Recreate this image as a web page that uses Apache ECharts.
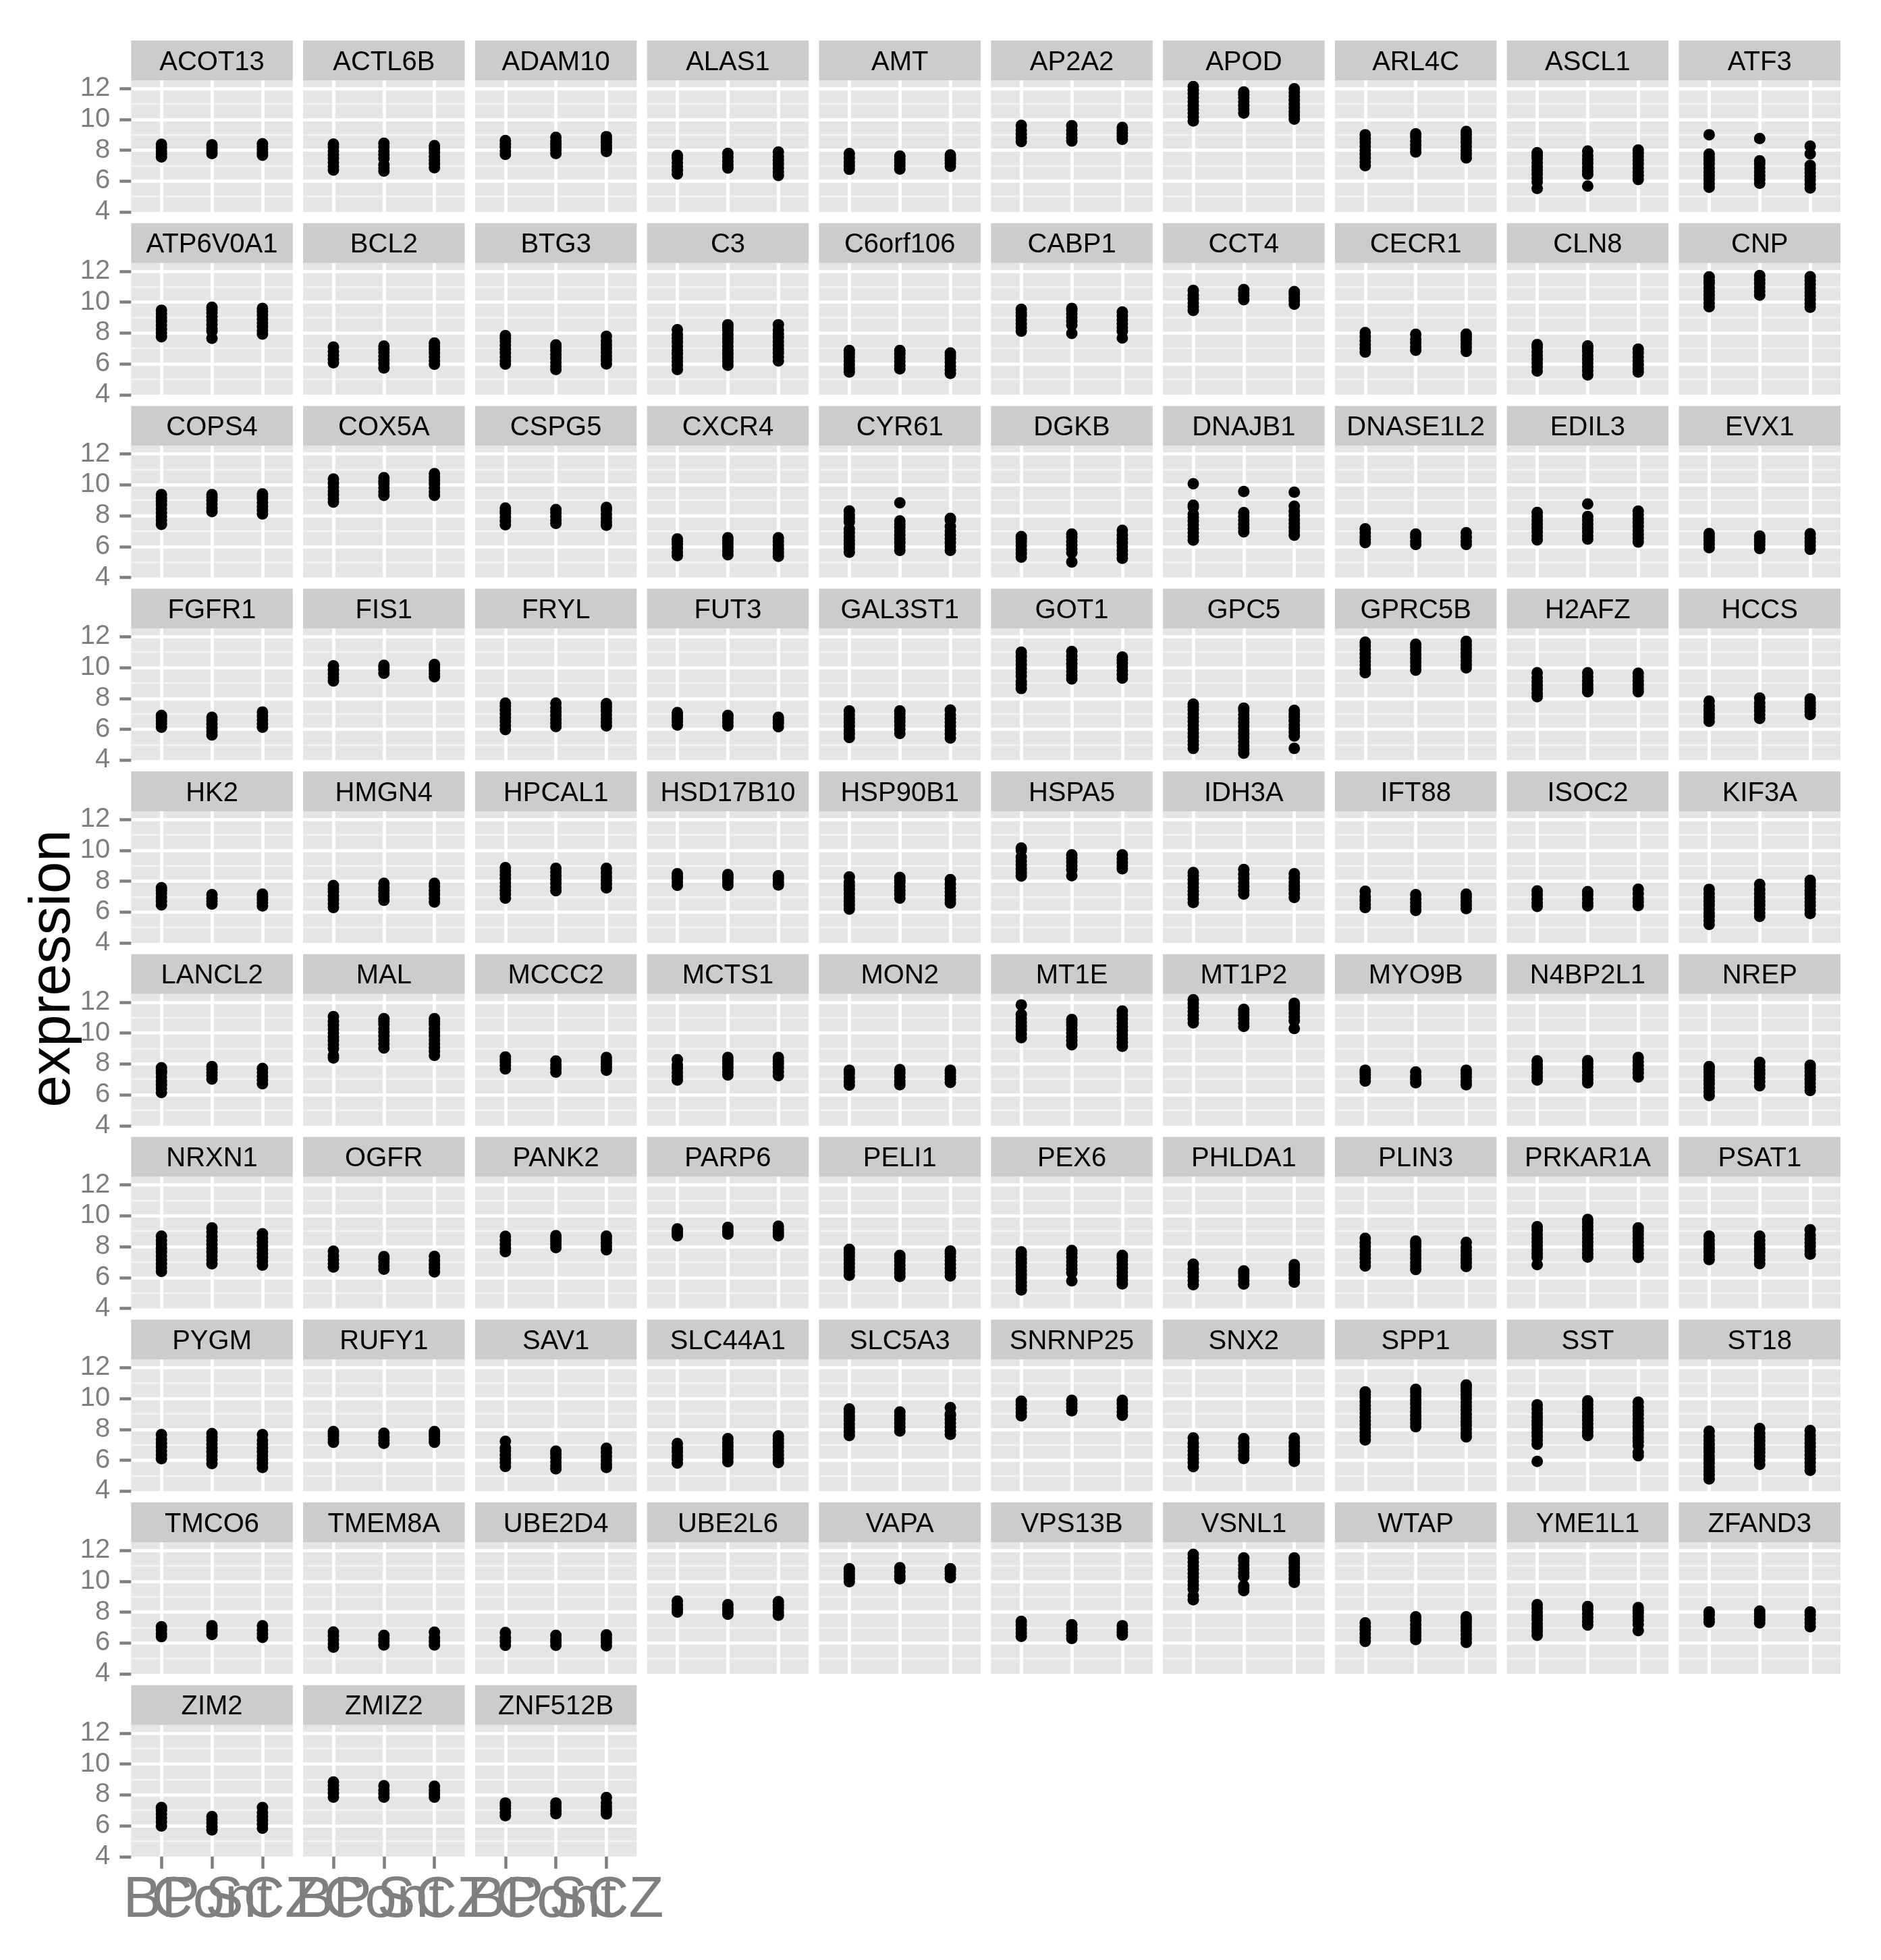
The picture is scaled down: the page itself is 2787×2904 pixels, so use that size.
<!DOCTYPE html>
<html><head><meta charset="utf-8">
<script src="https://cdn.jsdelivr.net/npm/echarts@6/dist/echarts.min.js"></script>
<style>html,body{margin:0;padding:0;background:#fff}#c{width:2787px;height:2904px}</style>
</head><body><div id="c"></div>
<script>
const genes = ['ACOT13','ACTL6B','ADAM10','ALAS1','AMT','AP2A2','APOD','ARL4C','ASCL1','ATF3',
'ATP6V0A1','BCL2','BTG3','C3','C6orf106','CABP1','CCT4','CECR1','CLN8','CNP',
'COPS4','COX5A','CSPG5','CXCR4','CYR61','DGKB','DNAJB1','DNASE1L2','EDIL3','EVX1',
'FGFR1','FIS1','FRYL','FUT3','GAL3ST1','GOT1','GPC5','GPRC5B','H2AFZ','HCCS',
'HK2','HMGN4','HPCAL1','HSD17B10','HSP90B1','HSPA5','IDH3A','IFT88','ISOC2','KIF3A',
'LANCL2','MAL','MCCC2','MCTS1','MON2','MT1E','MT1P2','MYO9B','N4BP2L1','NREP',
'NRXN1','OGFR','PANK2','PARP6','PELI1','PEX6','PHLDA1','PLIN3','PRKAR1A','PSAT1',
'PYGM','RUFY1','SAV1','SLC44A1','SLC5A3','SNRNP25','SNX2','SPP1','SST','ST18',
'TMCO6','TMEM8A','UBE2D4','UBE2L6','VAPA','VPS13B','VSNL1','WTAP','YME1L1','ZFAND3',
'ZIM2','ZMIZ2','ZNF512B'];
const groups = ['BP','Cont','SCZ'];
const yTicks = [4,6,8,10,12];
const yTitle = 'expression';

const bp = [
[7.56,7.75,7.95,8.15,8.38],
[6.71,6.95,7.2,7.45,7.7,7.95,8.2,8.39],
[7.73,7.95,8.2,8.4,8.62],
[6.46,6.7,6.95,7.2,7.45,7.66],
[6.76,7.0,7.25,7.5,7.78],
[8.56,8.8,9.05,9.3,9.61],
[9.89,10.15,10.4,10.65,10.9,11.15,11.4,11.65,11.9,12.12],
[6.99,7.25,7.5,7.75,8.0,8.25,8.5,8.75,9.0],
[5.52,5.95,6.2,6.45,6.7,6.95,7.2,7.45,7.65,7.84],
[5.6,5.85,6.1,6.35,6.6,6.85,7.1,7.35,7.55,7.75,9.0],
[7.75,8.0,8.25,8.5,8.75,9.0,9.25,9.47],
[6.07,6.3,6.55,6.8,7.08],
[5.98,6.2,6.45,6.7,6.95,7.2,7.45,7.65,7.82],
[5.63,5.9,6.15,6.4,6.65,6.9,7.15,7.4,7.65,7.9,8.21],
[5.46,5.7,5.95,6.2,6.45,6.66,6.86],
[8.11,8.35,8.6,8.85,9.1,9.3,9.53],
[9.45,9.7,9.95,10.2,10.45,10.75],
[6.76,7.0,7.25,7.5,7.75,8.02],
[5.53,5.8,6.05,6.3,6.55,6.8,7.05,7.25],
[9.69,9.95,10.2,10.45,10.7,10.95,11.2,11.4,11.63],
[7.43,7.7,7.95,8.2,8.45,8.7,8.95,9.15,9.37],
[8.87,9.1,9.35,9.6,9.85,10.1,10.37],
[7.41,7.65,7.9,8.15,8.3,8.49],
[5.41,5.65,5.9,6.15,6.35,6.49],
[5.63,5.9,6.15,6.4,6.65,6.9,7.15,7.6,7.85,8.05,8.31],
[5.31,5.55,5.8,6.05,6.3,6.5,6.64],
[6.42,6.65,6.9,7.15,7.4,7.65,7.9,8.1,8.55,8.68,10.07],
[6.25,6.45,6.65,6.9,7.15],
[6.43,6.7,6.95,7.2,7.45,7.7,7.95,8.21],
[5.92,6.15,6.4,6.6,6.84],
[6.13,6.35,6.55,6.75,6.9],
[9.13,9.35,9.6,9.85,10.11],
[5.98,6.25,6.5,6.75,7.0,7.25,7.5,7.69],
[6.27,6.5,6.7,6.9,7.08],
[5.46,5.7,5.95,6.2,6.45,6.7,6.95,7.19],
[8.64,8.9,9.1,9.45,9.7,9.95,10.2,10.45,10.7,10.99],
[4.76,5.0,5.25,5.5,5.75,6.0,6.25,6.5,6.75,7.0,7.25,7.45,7.63],
[9.66,9.9,10.15,10.4,10.65,10.9,11.15,11.4,11.64],
[8.11,8.35,8.6,8.85,9.1,9.35,9.66],
[6.51,6.75,7.0,7.25,7.5,7.83],
[6.46,6.7,6.95,7.2,7.4,7.57],
[6.29,6.55,6.8,7.05,7.3,7.5,7.72],
[6.9,7.15,7.4,7.65,7.9,8.15,8.4,8.65,8.87],
[7.73,7.95,8.15,8.3,8.48],
[6.19,6.45,6.7,6.95,7.2,7.45,7.7,7.95,8.27],
[8.33,8.55,8.8,9.05,9.3,9.55,10.0,10.14],
[6.61,6.85,7.1,7.35,7.6,7.85,8.1,8.35,8.56],
[6.29,6.5,6.75,7.0,7.34],
[6.36,6.6,6.85,7.1,7.37],
[5.19,5.45,5.7,5.95,6.2,6.45,6.7,6.95,7.2,7.47],
[6.14,6.4,6.65,6.9,7.15,7.4,7.55,7.75],
[8.38,8.55,9.0,9.25,9.5,9.75,10.0,10.25,10.5,10.75,11.06],
[7.67,7.9,8.1,8.3,8.45],
[6.95,7.2,7.45,7.7,7.95,8.27],
[6.62,6.85,7.1,7.35,7.59],
[9.69,9.95,10.2,10.45,10.7,10.95,11.2,11.82],
[10.66,10.9,11.15,11.4,11.65,11.9,12.15],
[6.89,7.1,7.3,7.45,7.59],
[6.95,7.2,7.45,7.7,7.95,8.2],
[5.95,6.2,6.45,6.7,6.95,7.2,7.45,7.65,7.83],
[6.39,6.65,6.9,7.15,7.4,7.65,7.9,8.15,8.4,8.68],
[6.68,6.9,7.15,7.4,7.7],
[7.67,7.9,8.15,8.4,8.67],
[8.7,8.85,9.0,9.15],
[6.14,6.4,6.65,6.9,7.15,7.4,7.6,7.83],
[5.19,5.45,5.7,5.95,6.2,6.45,6.7,6.95,7.2,7.45,7.66],
[5.53,5.8,6.05,6.3,6.55,6.86],
[6.74,7.0,7.25,7.5,7.75,8.0,8.25,8.54],
[6.83,7.3,7.55,7.8,8.05,8.3,8.55,8.8,9.05,9.29],
[7.16,7.4,7.65,7.9,8.15,8.4,8.68],
[6.1,6.35,6.6,6.85,7.1,7.35,7.66],
[7.16,7.35,7.55,7.7,7.86],
[5.6,5.85,6.1,6.35,6.6,6.8,7.22],
[5.81,6.05,6.3,6.55,6.8,7.08],
[7.6,7.85,8.1,8.35,8.6,8.85,9.1,9.32],
[8.87,9.1,9.35,9.6,9.83],
[5.59,5.85,6.1,6.35,6.6,6.85,7.1,7.44],
[7.31,7.55,7.8,8.05,8.3,8.55,8.8,9.05,9.3,9.55,9.8,10.05,10.25,10.43],
[5.92,7.03,7.3,7.55,7.8,8.05,8.3,8.55,8.8,9.05,9.3,9.59],
[4.79,5.05,5.3,5.55,5.8,6.05,6.3,6.55,6.8,7.05,7.3,7.55,7.88],
[6.41,6.6,6.85,7.05],
[5.73,5.95,6.2,6.45,6.71],
[5.85,6.1,6.35,6.68],
[8.0,8.2,8.45,8.71],
[9.97,10.2,10.4,10.6,10.81],
[6.43,6.65,6.9,7.15,7.4],
[8.8,9.05,9.5,9.75,10.0,10.25,10.5,10.75,11.0,11.25,11.5,11.74],
[6.1,6.35,6.6,6.85,7.05,7.3],
[6.49,6.75,7.0,7.25,7.5,7.75,8.0,8.25,8.48],
[7.35,7.55,7.8,8.01],
[5.98,6.25,6.5,6.75,7.0,7.18],
[7.85,8.1,8.35,8.6,8.83],
[6.64,6.85,7.1,7.3,7.47]
];

const cont = [
[7.78,7.95,8.15,8.35],
[6.64,6.85,7.05,7.45,7.7,7.95,8.2,8.45],
[7.78,8.0,8.2,8.4,8.6,8.83],
[6.84,7.05,7.3,7.55,7.79],
[6.78,7.0,7.2,7.4,7.62],
[8.59,8.8,9.05,9.3,9.59],
[10.4,10.65,10.9,11.15,11.4,11.6,11.77],
[7.88,8.1,8.35,8.6,8.85,9.06],
[5.67,6.44,6.65,6.9,7.15,7.4,7.65,7.95],
[5.86,6.1,6.35,6.6,6.85,7.1,7.31,8.75],
[7.65,8.1,8.3,8.55,8.8,9.05,9.3,9.5,9.66],
[5.73,6.0,6.25,6.5,6.75,6.95,7.15],
[5.63,5.85,6.1,6.35,6.6,6.85,7.05,7.22],
[5.9,6.15,6.4,6.65,6.9,7.15,7.4,7.65,7.9,8.15,8.35,8.53],
[5.67,5.9,6.15,6.4,6.65,6.86],
[7.97,8.5,8.75,9.0,9.25,9.45,9.59],
[10.15,10.4,10.6,10.81],
[6.87,7.1,7.35,7.6,7.91],
[5.28,5.55,5.8,6.05,6.3,6.55,6.8,7.0,7.16],
[10.45,10.7,10.95,11.2,11.45,11.72],
[8.26,8.5,8.75,9.0,9.2,9.37],
[9.31,9.55,9.8,10.05,10.25,10.46],
[7.5,7.7,7.95,8.2,8.39],
[5.47,5.7,5.95,6.2,6.4,6.57],
[5.75,6.0,6.25,6.5,6.75,7.0,7.25,7.45,7.66,8.83],
[5.0,5.6,5.85,6.1,6.35,6.6,6.81],
[6.95,7.2,7.45,7.7,7.95,8.2,9.56],
[6.13,6.35,6.6,6.81],
[6.48,6.7,6.95,7.2,7.45,7.7,7.95,8.75],
[5.87,6.1,6.3,6.5,6.68],
[5.63,5.85,6.1,6.35,6.6,6.78],
[9.63,9.85,10.0,10.14],
[6.17,6.4,6.65,6.9,7.15,7.4,7.69],
[6.22,6.45,6.7,6.9],
[5.73,6.0,6.25,6.5,6.75,7.0,7.19],
[9.26,9.5,9.75,10.0,10.25,10.5,10.75,11.04],
[4.45,4.7,4.95,5.2,5.45,5.7,5.95,6.2,6.45,6.7,6.95,7.2,7.37],
[9.83,10.1,10.35,10.6,10.85,11.1,11.3,11.51],
[8.43,8.65,8.9,9.15,9.4,9.66],
[6.7,6.95,7.2,7.45,7.7,8.02],
[6.51,6.7,6.9,7.13],
[6.76,7.0,7.2,7.4,7.6,7.86],
[7.38,7.6,7.85,8.1,8.35,8.6,8.83],
[7.73,7.95,8.15,8.3,8.43],
[6.9,7.15,7.4,7.65,7.9,8.05,8.24],
[8.35,8.75,9.0,9.25,9.5,9.7],
[7.16,7.4,7.65,7.9,8.15,8.45,8.75],
[6.1,6.35,6.6,6.85,7.13],
[6.39,6.6,6.85,7.1,7.32],
[5.72,5.95,6.2,6.45,6.7,6.95,7.2,7.45,7.79],
[7.02,7.25,7.45,7.65,7.83],
[9.03,9.3,9.55,9.8,10.05,10.3,10.55,10.75,10.93],
[7.46,7.7,7.95,8.19],
[7.28,7.5,7.75,8.0,8.2,8.42],
[6.65,6.9,7.15,7.4,7.63],
[9.24,9.5,9.75,10.0,10.25,10.5,10.7,10.87],
[10.43,10.65,10.9,11.15,11.35,11.53],
[6.78,7.0,7.2,7.48],
[6.77,7.0,7.25,7.5,7.75,8.0,8.21],
[6.58,6.85,7.1,7.35,7.6,7.85,8.1],
[6.89,7.15,7.4,7.65,7.9,8.15,8.4,8.65,8.95,9.21],
[6.54,6.75,7.0,7.2,7.35],
[7.94,8.15,8.35,8.55,8.71],
[8.81,9.0,9.25],
[6.07,6.3,6.55,6.8,7.05,7.25,7.43],
[5.78,6.3,6.55,6.8,7.05,7.3,7.55,7.75],
[5.57,5.8,6.05,6.25,6.43],
[6.51,6.75,7.0,7.25,7.5,7.75,8.0,8.2,8.36],
[7.32,7.55,7.8,8.05,8.3,8.55,8.8,9.05,9.3,9.55,9.76],
[6.9,7.15,7.4,7.65,7.9,8.15,8.4,8.68],
[5.78,6.05,6.3,6.55,6.8,7.05,7.3,7.5,7.73],
[7.09,7.3,7.5,7.75],
[5.44,5.65,5.9,6.15,6.4,6.59],
[5.9,6.15,6.4,6.65,6.9,7.15,7.4],
[7.89,8.15,8.4,8.65,8.9,9.13],
[9.2,9.45,9.65,9.88],
[6.11,6.35,6.6,6.85,7.1,7.4],
[8.17,8.4,8.65,8.9,9.15,9.4,9.65,9.9,10.15,10.4,10.59],
[7.6,7.85,8.1,8.35,8.6,8.85,9.1,9.35,9.6,9.85],
[5.73,6.0,6.25,6.5,6.75,7.0,7.25,7.5,7.75,8.05],
[6.55,6.75,6.95,7.11],
[5.87,6.1,6.3,6.49],
[5.85,6.05,6.25,6.49],
[7.86,8.05,8.25,8.48],
[10.15,10.35,10.6,10.87],
[6.29,6.5,6.75,6.95,7.18],
[9.39,9.55,9.7,10.3,10.55,10.8,11.05,11.3,11.51],
[6.22,6.45,6.7,6.95,7.2,7.45,7.69],
[7.16,7.4,7.65,7.9,8.15,8.36],
[7.3,7.5,7.7,7.9,8.07],
[5.73,5.95,6.2,6.4,6.59],
[7.85,8.05,8.3,8.59],
[6.78,7.0,7.25,7.47]
];

const scz = [
[7.67,7.85,8.05,8.25,8.42],
[6.86,7.1,7.35,7.6,7.85,8.1,8.3],
[7.91,8.1,8.3,8.5,8.7,8.88],
[6.36,6.6,6.85,7.1,7.35,7.6,7.88],
[6.95,7.15,7.35,7.5,7.69],
[8.7,8.9,9.1,9.3,9.48],
[10.01,10.25,10.5,10.75,11.0,11.25,11.5,11.75,11.98],
[7.5,7.75,8.0,8.25,8.5,8.75,9.0,9.21],
[6.1,6.35,6.6,6.85,7.1,7.35,7.6,7.8,8.01],
[5.55,5.8,6.05,6.3,6.55,6.8,7.02,7.76,8.26],
[7.92,8.15,8.4,8.65,8.9,9.15,9.4,9.59],
[5.97,6.2,6.45,6.7,6.95,7.15,7.34],
[5.99,6.25,6.5,6.75,7.0,7.25,7.5,7.78],
[6.19,6.45,6.7,6.95,7.2,7.45,7.7,7.95,8.2,8.53],
[5.38,5.6,5.85,6.1,6.35,6.55,6.7],
[7.67,8.1,8.35,8.6,8.85,9.1,9.35],
[9.86,10.1,10.3,10.5,10.68],
[6.8,7.05,7.3,7.55,7.75,7.92],
[5.46,5.7,5.95,6.2,6.45,6.7,6.95],
[9.66,9.9,10.15,10.4,10.65,10.9,11.15,11.4,11.64],
[8.11,8.35,8.6,8.85,9.1,9.25,9.41],
[9.31,9.55,9.8,10.05,10.3,10.5,10.72],
[7.38,7.6,7.85,8.1,8.35,8.54],
[5.37,5.6,5.85,6.1,6.35,6.57],
[5.75,6.0,6.25,6.5,6.75,7.0,7.3,7.7,7.83],
[5.24,5.5,5.75,6.0,6.25,6.5,6.75,7.05],
[6.73,7.0,7.25,7.5,7.75,8.0,8.3,8.61,9.52],
[6.13,6.35,6.6,6.9],
[6.29,6.55,6.8,7.05,7.3,7.55,7.8,8.05,8.3],
[5.82,6.05,6.3,6.55,6.83],
[6.13,6.35,6.6,6.85,7.12],
[9.4,9.6,9.8,10.0,10.2],
[6.22,6.45,6.7,6.95,7.2,7.45,7.66],
[6.16,6.4,6.6,6.78],
[5.43,5.7,5.95,6.2,6.45,6.7,6.95,7.25],
[9.31,9.55,9.8,10.05,10.3,10.5,10.68],
[4.76,5.56,5.8,6.05,6.3,6.55,6.8,7.0,7.22],
[9.98,10.2,10.45,10.7,10.95,11.2,11.45,11.69],
[8.43,8.65,8.9,9.15,9.4,9.63],
[6.95,7.15,7.35,7.55,7.75,7.97],
[6.39,6.6,6.8,7.0,7.16],
[6.65,6.9,7.15,7.4,7.65,7.86],
[7.56,7.8,8.05,8.3,8.55,8.83],
[7.75,7.95,8.15,8.35],
[6.58,6.8,7.05,7.3,7.55,7.8,8.1],
[8.8,9.0,9.2,9.45,9.7],
[6.94,7.2,7.45,7.7,7.95,8.2,8.48],
[6.22,6.45,6.7,6.95,7.16],
[6.42,6.65,6.9,7.2,7.48],
[5.9,6.15,6.4,6.65,6.9,7.15,7.4,7.65,7.85,8.05],
[6.71,6.95,7.2,7.45,7.7],
[8.55,8.8,9.05,9.3,9.55,9.8,10.05,10.3,10.55,10.75,10.93],
[7.59,7.8,8.0,8.2,8.42],
[7.24,7.5,7.75,8.0,8.2,8.42],
[6.8,7.0,7.2,7.4,7.59],
[9.14,9.4,9.65,9.9,10.15,10.4,10.65,10.9,11.15,11.42],
[10.29,10.8,11.05,11.3,11.55,11.75,11.92],
[6.65,6.9,7.15,7.35,7.59],
[7.15,7.4,7.65,7.9,8.15,8.42],
[6.27,6.5,6.75,7.0,7.25,7.5,7.7,7.91],
[6.8,7.05,7.3,7.55,7.8,8.05,8.3,8.55,8.83],
[6.36,6.6,6.85,7.1,7.37],
[7.79,8.0,8.25,8.5,8.68],
[8.7,8.9,9.1,9.32],
[6.1,6.35,6.6,6.85,7.1,7.35,7.55,7.72],
[5.59,5.85,6.1,6.35,6.6,6.85,7.1,7.3,7.43],
[5.69,5.95,6.2,6.45,6.65,6.83],
[6.71,6.95,7.2,7.45,7.7,7.95,8.27],
[7.3,7.55,7.8,8.05,8.3,8.55,8.8,9.0,9.21],
[7.51,7.75,8.0,8.25,8.5,8.75,9.09],
[5.53,5.8,6.05,6.3,6.55,6.8,7.05,7.3,7.66],
[7.16,7.35,7.55,7.7,7.86],
[5.53,5.75,6.0,6.25,6.5,6.78],
[5.85,6.1,6.35,6.6,6.85,7.1,7.35,7.57],
[7.67,7.9,8.15,8.4,8.65,8.9,9.0,9.41],
[8.91,9.15,9.4,9.65,9.88],
[5.92,6.15,6.4,6.65,6.9,7.15,7.43],
[7.51,7.75,8.0,8.25,8.5,8.75,9.0,9.25,9.5,9.75,10.0,10.25,10.5,10.7,10.87],
[6.29,6.5,6.95,7.2,7.45,7.7,7.95,8.2,8.45,8.7,8.95,9.2,9.45,9.76],
[5.34,5.6,5.85,6.1,6.35,6.6,6.85,7.1,7.35,7.6,7.92],
[6.36,6.6,6.85,7.11],
[5.87,6.1,6.35,6.7],
[5.81,6.05,6.3,6.52],
[7.79,8.0,8.25,8.45,8.68],
[10.23,10.45,10.65,10.81],
[6.51,6.7,6.9,7.12],
[9.92,10.15,10.4,10.65,10.9,11.15,11.35,11.51],
[6.03,6.3,6.55,6.8,7.05,7.3,7.5,7.69],
[6.8,7.2,7.45,7.7,7.95,8.1,8.29],
[7.05,7.3,7.55,7.8,8.01],
[5.84,6.1,6.35,6.6,6.85,7.18],
[7.85,8.05,8.3,8.56],
[6.76,7.0,7.25,7.5,7.83]
];

const chart = echarts.init(document.getElementById('c'), null, {renderer: 'canvas', width: 2787, height: 2904});
const NC = 10, L0 = 194.3, DX = 254.8, PW = 239.5, T0 = 60, DY = 270.75, SH = 59, PH = 195;
const FONT = 'Liberation Sans';
const GREY = '#7F7F7F';
// 17 category slots spanning the expanded discrete range
const slots = [];
for (let k = 0; k < 17; k++) slots.push('s' + k);
const catIdx = [3, 8, 13];
groups.forEach((g, j) => { slots[catIdx[j]] = g; });
const isCat = (idx) => catIdx.indexOf(idx) >= 0;
const seriesData = [bp, cont, scz];

const grids = [], xAxes = [], yAxes = [], series = [], graphics = [], extraX = [];
const lastRowStart = genes.length - (genes.length % NC || NC);
genes.forEach((g, i) => {
  const col = i % NC, row = Math.floor(i / NC);
  const left = L0 + DX * col;
  const stripTop = T0 + DY * row;
  const top = stripTop + SH;
  const bottomAxis = i >= lastRowStart;
  grids.push({left: left, top: top, width: PW, height: PH, show: true, backgroundColor: '#E5E5E5',
    borderWidth: 0, containLabel: false, outerBoundsMode: 'none'});
  xAxes.push({
    gridIndex: i, type: 'category', data: slots, boundaryGap: false, position: 'bottom',
    axisLine: {show: false}, axisTick: {show: false}, axisLabel: {show: false},
    splitLine: {show: true, interval: (idx) => isCat(idx), lineStyle: {color: '#FFFFFF', width: 4.7}}
  });
  if (bottomAxis) {
    // one axis per group label so the overlapping labels are all kept (as in the original)
    catIdx.forEach((ci) => {
      extraX.push({
        gridIndex: i, type: 'category', data: slots, boundaryGap: false, position: 'bottom', offset: 0,
        axisLine: {show: false}, splitLine: {show: false},
        axisTick: {show: true, interval: (idx) => idx === ci, customValues: [ci], length: 18,
          lineStyle: {color: GREY, width: 4.5}},
        axisLabel: {show: true, interval: (idx) => idx === ci, customValues: [ci], hideOverlap: false,
          showMinLabel: true, showMaxLabel: true,
          fontSize: 85, fontFamily: FONT, color: GREY, margin: 23}
      });
    });
  }
  // minor grid axis
  yAxes.push({
    gridIndex: i, type: 'value', min: 4, max: 12.525, interval: 1, position: 'left',
    axisLine: {show: false}, axisTick: {show: false}, axisLabel: {show: false},
    splitLine: {show: true, showMinLine: false, showMaxLine: false, lineStyle: {color: '#F2F2F2', width: 2.4}}
  });
  // major axis
  yAxes.push({
    gridIndex: i, type: 'value', min: 4, max: 12.525, interval: 2, position: 'left',
    axisLine: {show: false},
    axisTick: {show: col === 0, customValues: yTicks, length: 17, lineStyle: {color: GREY, width: 4.5}},
    axisLabel: {show: col === 0, customValues: yTicks, fontSize: 40, fontFamily: FONT, color: GREY, margin: 31,
      formatter: (v) => (yTicks.indexOf(v) >= 0 ? String(v) : '')},
    splitLine: {show: true, showMinLine: false, lineStyle: {color: '#FFFFFF', width: 4.7}}
  });
  const data = [];
  groups.forEach((grp, j) => { seriesData[j][i].forEach(v => data.push([grp, v])); });
  series.push({
    type: 'scatter', xAxisIndex: i, yAxisIndex: 2 * i + 1, data: data,
    symbol: 'circle', symbolSize: 17, itemStyle: {color: '#000000', opacity: 1}, silent: true, z: 5
  });
  graphics.push({type: 'rect', shape: {x: left, y: stripTop, width: PW, height: SH}, style: {fill: '#CCCCCC'}, silent: true});
  graphics.push({type: 'text', x: left + PW / 2, y: stripTop + SH / 2 + 3, silent: true,
    style: {text: g, fill: '#000000', fontSize: 40, fontFamily: FONT, align: 'center', verticalAlign: 'middle'}});
});
graphics.push({type: 'text', x: 80, y: 1435, rotation: Math.PI / 2, silent: true,
  style: {text: yTitle, fill: '#000000', fontSize: 85, fontFamily: FONT, align: 'center', verticalAlign: 'middle'}});

chart.setOption({
  animation: false,
  backgroundColor: '#FFFFFF',
  grid: grids, xAxis: xAxes.concat(extraX), yAxis: yAxes, series: series,
  graphic: {elements: graphics}
});
</script></body></html>
